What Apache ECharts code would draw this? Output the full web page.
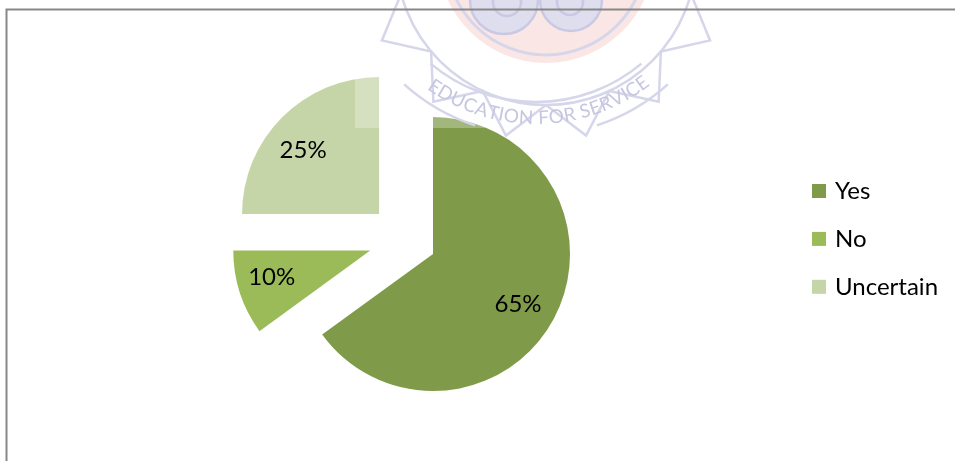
<!DOCTYPE html>
<html>
<head>
<meta charset="utf-8">
<script src="https://cdn.jsdelivr.net/npm/echarts@6/dist/echarts.min.js"></script>
<style>
html,body{margin:0;padding:0;background:#fff;}
#chart{width:955px;height:461px;}
</style>
</head>
<body>
<div id="chart"></div>
<script>
// ---- data ----
const categories = ['Yes', 'No', 'Uncertain'];
const values = [65, 10, 25];
const valueLabels = ['65%', '10%', '25%'];
const colors = ['#7F9B4A', '#9BBB59', '#C5D5A8'];
const explodeOffsets = [32, 36, 36];
const watermarkText = 'EDUCATION FOR SERVICE';

const FONT = 'Lato, "Open Sans", sans-serif';
const CENTER = [404.5, 239.5];
const R = 137;
// small nudges of the data labels [dx, dy]
const labelNudge = [[-8.5, 3], [-2.5, -4.5], [-4.5, 7.5]];

const chart = echarts.init(document.getElementById('chart'), null, {renderer: 'canvas'});

const sliceSeries = categories.map((name, i) => ({
  type: 'pie',
  name: 'slice-' + name,
  center: CENTER,
  radius: R,
  startAngle: 90,
  clockwise: true,
  selectedMode: 'multiple',
  selectedOffset: explodeOffsets[i],
  silent: true,
  z: 2,
  label: {show: false},
  labelLine: {show: false},
  emphasis: {disabled: true},
  itemStyle: {borderWidth: 0},
  data: categories.map((n, j) => ({
    name: n,
    value: values[j],
    selected: j === i,
    itemStyle: {color: j === i ? colors[i] : 'rgba(0,0,0,0)', borderWidth: 0}
  }))
}));

const labelSeries = {
  type: 'pie',
  name: 'labels',
  center: CENTER,
  radius: 268,
  startAngle: 90,
  clockwise: true,
  silent: true,
  z: 3,
  emphasis: {disabled: true},
  itemStyle: {color: 'rgba(0,0,0,0)', borderWidth: 0},
  label: {
    show: true,
    position: 'inside',
    formatter: p => valueLabels[p.dataIndex],
    fontFamily: FONT,
    fontSize: 24,
    color: '#000'
  },
  labelLayout: p => ({dx: labelNudge[p.dataIndex][0], dy: labelNudge[p.dataIndex][1]}),
  labelLine: {show: false},
  data: categories.map((n, j) => ({name: n, value: values[j]}))
};

// ---- faint watermark (logo) decoration ----
const wm = [];
const lav = '#d6d6eb';
const lavDark = '#c9c9e3';
wm.push({type: 'rect', z: 10, silent: true, shape: {x: 355, y: 0, width: 357, height: 128}, style: {fill: 'rgba(255,255,255,0.28)'}});
wm.push({type: 'circle', z: 10, silent: true, shape: {cx: 546, cy: -45, r: 108}, style: {fill: 'rgba(246,200,200,0.45)'}});
wm.push({type: 'circle', z: 10, silent: true, shape: {cx: 546, cy: -45, r: 100}, style: {fill: 'none', stroke: lav, lineWidth: 3}});
wm.push({type: 'circle', z: 10, silent: true, shape: {cx: 546, cy: -45, r: 150}, style: {fill: 'none', stroke: lav, lineWidth: 2.5}});
wm.push({type: 'circle', z: 10, silent: true, shape: {cx: 504, cy: 0, r: 34}, style: {fill: '#dedeef', stroke: lavDark, lineWidth: 2.5}});
wm.push({type: 'circle', z: 10, silent: true, shape: {cx: 571, cy: 0, r: 31}, style: {fill: '#dedeef', stroke: lavDark, lineWidth: 2.5}});
wm.push({type: 'circle', z: 10, silent: true, shape: {cx: 507, cy: 2, r: 14}, style: {fill: 'none', stroke: lavDark, lineWidth: 2.5}});
wm.push({type: 'circle', z: 10, silent: true, shape: {cx: 570, cy: 2, r: 13}, style: {fill: 'none', stroke: lavDark, lineWidth: 2.5}});
const star = [];
for (let k = 0; k <= 12; k++) {
  const a = (15 + k * 12.5) * Math.PI / 180;
  const rr = k % 2 === 0 ? 150 : 185;
  star.push([546 + rr * Math.cos(a), -45 + rr * Math.sin(a)]);
}
wm.push({type: 'polyline', z: 10, silent: true, shape: {points: star}, style: {fill: 'none', stroke: lav, lineWidth: 2.5}});
const WC = [536, -62];
wm.push({type: 'arc', z: 10, silent: true, shape: {cx: WC[0], cy: WC[1], r: 164, startAngle: 50 * Math.PI / 180, endAngle: 130 * Math.PI / 180}, style: {fill: 'none', stroke: lav, lineWidth: 2.5}});
wm.push({type: 'arc', z: 10, silent: true, shape: {cx: WC[0], cy: WC[1], r: 197, startAngle: 48 * Math.PI / 180, endAngle: 72 * Math.PI / 180}, style: {fill: 'none', stroke: lav, lineWidth: 2.5}});
wm.push({type: 'arc', z: 10, silent: true, shape: {cx: WC[0], cy: WC[1], r: 197, startAngle: 108 * Math.PI / 180, endAngle: 132 * Math.PI / 180}, style: {fill: 'none', stroke: lav, lineWidth: 2.5}});
(function () {
  const ctx = document.createElement('canvas').getContext('2d');
  const fs = 20;
  ctx.font = fs + 'px ' + FONT;
  const w = Array.from(watermarkText).map(c => ctx.measureText(c).width);
  const centers = [];
  let acc = 0;
  for (let k = 0; k < w.length; k++) { centers.push(acc + w[k] / 2); acc += w[k]; }
  const span = centers[centers.length - 1] - centers[0];
  const a0 = 124.3, a1 = 53.8;
  const arcLen = 180 * (a0 - a1) * Math.PI / 180;
  const scale = arcLen / span;
  for (let k = 0; k < w.length; k++) {
    const deg = a0 - (centers[k] - centers[0]) / span * (a0 - a1);
    const rad = deg * Math.PI / 180;
    wm.push({
      type: 'text', z: 11, silent: true,
      x: WC[0] + 180 * Math.cos(rad),
      y: WC[1] + 180 * Math.sin(rad),
      rotation: (90 - deg) * Math.PI / 180,
      style: {text: watermarkText[k], fill: '#c6c6e0', font: (fs * Math.min(scale, 1.1)).toFixed(1) + 'px ' + FONT, align: 'center', verticalAlign: 'middle'}
    });
  }
})();
wm.push({type: 'polyline', z: 20, silent: true, shape: {points: [[6.5, 461], [6.5, 9.5], [955, 9.5]]}, style: {fill: 'none', stroke: '#878787', lineWidth: 2}});

chart.setOption({
  backgroundColor: '#ffffff',
  animation: false,
  legend: {
    orient: 'vertical',
    left: 807,
    top: 174,
    itemWidth: 14,
    itemHeight: 14,
    itemGap: 23.9,
    icon: 'rect',
    selectedMode: false,
    textStyle: {fontFamily: FONT, fontSize: 24, color: '#000', padding: [0, 0, 0, 4]},
    data: categories.map((n, i) => ({name: n, itemStyle: {color: colors[i], opacity: 1}}))
  },
  graphic: {elements: wm},
  series: [...sliceSeries, labelSeries]
});
</script>
</body>
</html>
